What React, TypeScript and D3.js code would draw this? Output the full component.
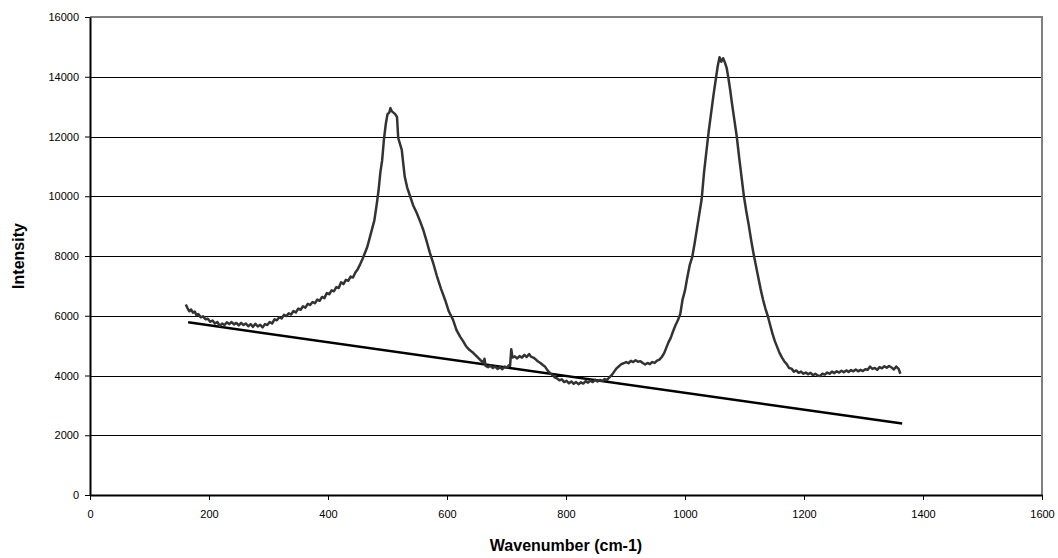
import React, { useEffect, useRef } from 'react'
import * as d3 from 'd3'

// measured spectrum, [wavenumber, intensity]
const spectrum: [number, number][] = [
  [161, 6380], [164, 6250], [167, 6150], [170, 6210], [173, 6100], [176, 6140], [179, 6020], [182, 6060],
  [186, 5950], [190, 5980], [194, 5880], [198, 5900], [202, 5800], [206, 5840], [210, 5740], [214, 5790],
  [218, 5660], [222, 5740], [226, 5690], [230, 5780], [234, 5720], [238, 5790], [242, 5710], [246, 5760],
  [250, 5680], [254, 5760], [258, 5690], [262, 5740], [266, 5650], [270, 5720], [274, 5630], [278, 5730],
  [282, 5640], [286, 5700], [290, 5610], [294, 5720], [298, 5690], [302, 5790], [306, 5740], [310, 5880],
  [314, 5850], [318, 5950], [322, 5910], [326, 6030], [330, 5990], [334, 6080], [338, 6040], [342, 6160],
  [346, 6110], [350, 6240], [354, 6200], [358, 6320], [362, 6270], [366, 6400], [370, 6360], [374, 6460],
  [378, 6420], [382, 6540], [386, 6500], [390, 6630], [394, 6590], [398, 6760], [402, 6720], [406, 6850],
  [410, 6820], [414, 6960], [418, 6930], [422, 7120], [426, 7060], [430, 7200], [434, 7170], [438, 7310],
  [442, 7280], [446, 7450], [450, 7560], [454, 7720], [458, 7900], [462, 8100], [466, 8300], [470, 8600],
  [474, 8900], [478, 9200], [482, 9750], [485, 10200], [488, 10800], [491, 11200], [494, 11900],
  [497, 12400], [500, 12750], [503, 12800], [505, 12950], [507, 12850], [510, 12800], [513, 12750],
  [516, 12650], [518, 11950], [521, 11750], [524, 11550], [527, 11000], [529, 10650], [533, 10300],
  [538, 10000], [543, 9700], [549, 9450], [555, 9150], [560, 8880], [565, 8550], [571, 8120], [577, 7750],
  [583, 7330], [590, 6900], [597, 6520], [603, 6150], [610, 5870], [616, 5520], [622, 5300], [627, 5150],
  [632, 4980], [638, 4850], [644, 4760], [650, 4640], [655, 4540], [658, 4480], [661, 4420], [663, 4560],
  [665, 4320], [669, 4280], [673, 4330], [677, 4250], [681, 4300], [685, 4220], [689, 4280], [693, 4210],
  [697, 4300], [701, 4260], [704, 4340], [706, 4320],
  [708, 4880], [710, 4600], [714, 4640], [718, 4570], [722, 4650], [726, 4600], [730, 4690], [734, 4620],
  [738, 4720], [741, 4630], [745, 4600], [749, 4540], [753, 4470], [757, 4420], [761, 4350], [765, 4290],
  [769, 4170], [773, 4080], [777, 4020], [781, 3940], [785, 3900], [789, 3840], [793, 3870], [797, 3780],
  [801, 3820], [805, 3740], [809, 3800], [813, 3720], [817, 3780], [821, 3710], [825, 3770], [829, 3730],
  [833, 3810], [837, 3760], [841, 3830], [845, 3780], [849, 3860], [853, 3800], [857, 3850], [861, 3820],
  [865, 3880], [869, 3850], [873, 3940], [877, 4020], [881, 4130], [885, 4240], [889, 4310], [893, 4380],
  [897, 4410], [901, 4450], [905, 4410], [909, 4490], [913, 4450], [917, 4510], [921, 4460], [925, 4480],
  [929, 4420], [933, 4370], [937, 4420], [941, 4380], [945, 4450], [949, 4420], [953, 4500], [957, 4530],
  [961, 4620], [965, 4750], [968, 4900], [972, 5100], [976, 5260], [980, 5480], [984, 5680], [988, 5850],
  [992, 6050], [996, 6550], [1000, 6850], [1004, 7300], [1008, 7700], [1012, 7950], [1016, 8400],
  [1020, 8900], [1024, 9400], [1028, 9900], [1032, 10800], [1036, 11500], [1040, 12200], [1044, 12800],
  [1048, 13400], [1052, 13950], [1055, 14350], [1058, 14650], [1061, 14500], [1064, 14620], [1067, 14480],
  [1070, 14300], [1073, 13950], [1076, 13550], [1079, 13100], [1083, 12550], [1087, 12000], [1091, 11300],
  [1095, 10650], [1099, 10000], [1103, 9500], [1107, 9050], [1111, 8550], [1115, 8100], [1119, 7700],
  [1123, 7300], [1127, 6900], [1131, 6550], [1135, 6250], [1139, 6000], [1143, 5700], [1147, 5400],
  [1151, 5150], [1155, 4950], [1159, 4750], [1163, 4600], [1167, 4470], [1171, 4380], [1175, 4250],
  [1179, 4230], [1183, 4130], [1187, 4170], [1191, 4090], [1195, 4130], [1199, 4060], [1203, 4100],
  [1207, 4040], [1211, 4090], [1215, 4010], [1219, 4060], [1223, 4000], [1227, 3980], [1231, 4060],
  [1235, 4030], [1239, 4100], [1243, 4060], [1247, 4130], [1251, 4080], [1255, 4140], [1259, 4100],
  [1263, 4160], [1267, 4110], [1271, 4170], [1275, 4120], [1279, 4180], [1283, 4140], [1287, 4200],
  [1291, 4140], [1295, 4190], [1299, 4150], [1303, 4210], [1307, 4190], [1311, 4300], [1315, 4220],
  [1319, 4250], [1323, 4190], [1327, 4280], [1331, 4240], [1335, 4310], [1339, 4260], [1343, 4320],
  [1347, 4270], [1351, 4200], [1355, 4300], [1359, 4220], [1362, 4060],
]

// straight baseline, two end points
const baseline: [number, number][] = [[165, 5780], [1365, 2390]]

const xTicks = [0, 200, 400, 600, 800, 1000, 1200, 1400, 1600]
const yTicks = [0, 2000, 4000, 6000, 8000, 10000, 12000, 14000, 16000]

export default function App() {
  const svgRef = useRef<SVGSVGElement>(null)

  useEffect(() => {
    const width = 1058
    const height = 558
    const m = { left: 90, top: 17, right: 1042, bottom: 495 }
    const font = '"Liberation Sans", Arial, sans-serif'

    const svg = d3.select(svgRef.current)
    svg.selectAll('*').remove()
    svg.attr('width', width).attr('height', height)

    const x = d3.scaleLinear().domain([0, 1600]).range([m.left, m.right])
    const y = d3.scaleLinear().domain([0, 16000]).range([m.bottom, m.top])

    // gridlines
    svg.append('g')
      .selectAll('line')
      .data(yTicks.filter(d => d > 0 && d < 16000))
      .join('line')
      .attr('x1', m.left).attr('x2', m.right)
      .attr('y1', d => Math.round(y(d)) + 0.5).attr('y2', d => Math.round(y(d)) + 0.5)
      .attr('stroke', '#000').attr('stroke-width', 1)

    // plot area border (top/right gray)
    svg.append('path')
      .attr('d', `M${m.left},${m.top} H${m.right} V${m.bottom}`)
      .attr('fill', 'none').attr('stroke', '#808080').attr('stroke-width', 2)

    // axes
    const xAxis = svg.append('g')
      .attr('transform', `translate(0,${m.bottom})`)
      .call(d3.axisBottom(x).tickValues(xTicks).tickSize(5).tickSizeOuter(0).tickFormat(d3.format('d')))
    const yAxis = svg.append('g')
      .attr('transform', `translate(${m.left},0)`)
      .call(d3.axisLeft(y).tickValues(yTicks).tickSize(5).tickSizeOuter(0).tickFormat(d3.format('d')))

    for (const ax of [xAxis, yAxis]) {
      ax.select('.domain').attr('stroke', '#000').attr('stroke-width', 2)
      ax.selectAll('.tick line').attr('stroke', '#000').attr('stroke-width', 1)
      ax.selectAll('.tick text').attr('font-family', font).attr('font-size', 11).attr('fill', '#000')
    }
    xAxis.selectAll('.tick text').attr('dy', '1.4em')
    yAxis.selectAll('.tick text').attr('x', -11)

    const line = d3.line<[number, number]>().x(d => x(d[0])).y(d => y(d[1]))

    svg.append('path')
      .datum(baseline)
      .attr('d', line)
      .attr('fill', 'none').attr('stroke', '#000').attr('stroke-width', 2.5)

    svg.append('path')
      .datum(spectrum)
      .attr('d', line)
      .attr('fill', 'none').attr('stroke', '#333').attr('stroke-width', 2.5)
      .attr('stroke-linejoin', 'round')

    // axis titles
    svg.append('text')
      .attr('x', (m.left + m.right) / 2).attr('y', 551)
      .attr('text-anchor', 'middle')
      .attr('font-family', font).attr('font-size', 16).attr('font-weight', 'bold')
      .text('Wavenumber (cm-1)')

    svg.append('text')
      .attr('transform', `translate(24,${(m.top + m.bottom) / 2}) rotate(-90)`)
      .attr('text-anchor', 'middle')
      .attr('font-family', font).attr('font-size', 16).attr('font-weight', 'bold')
      .text('Intensity')
  }, [])

  return (
    <svg ref={svgRef} style={{ position: 'absolute', left: 0, top: 0, background: '#fff' }}></svg>
  )
}
